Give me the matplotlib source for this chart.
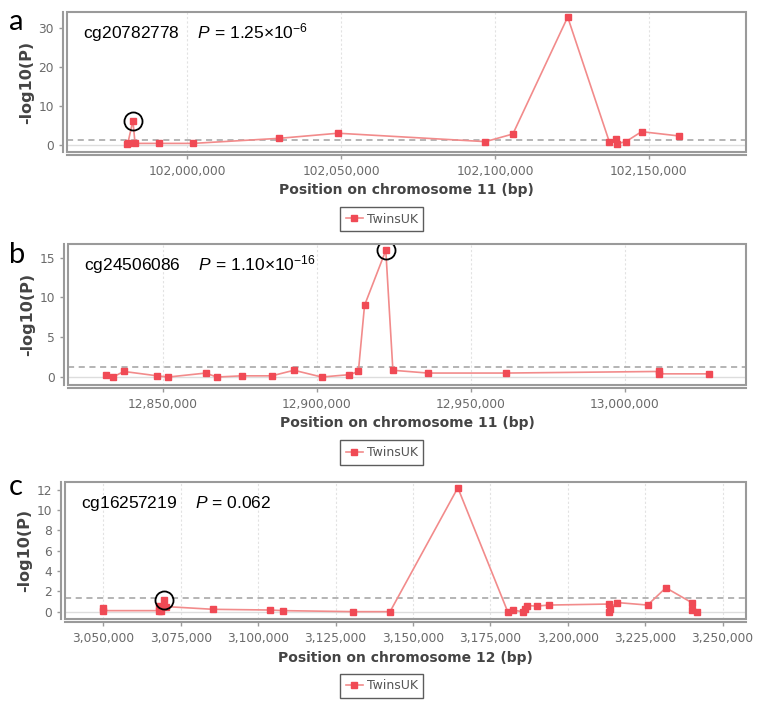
import matplotlib
matplotlib.use("Agg")
import matplotlib.pyplot as plt
from matplotlib.patches import Rectangle
from matplotlib.ticker import FuncFormatter, MultipleLocator

plt.rcParams["mathtext.fontset"] = "custom"
plt.rcParams["mathtext.rm"] = "Liberation Sans"
plt.rcParams["mathtext.it"] = "Liberation Sans:italic"

# panel a: chromosome 11, cg20782778
pos_a = [101980400, 101980800, 101982400, 101983100, 101991000, 102002000, 102030000,
         102049000, 102096900, 102105800, 102123600, 102137100, 102139200, 102139500,
         102142500, 102147600, 102159800]
val_a = [0.2, 0.6, 6.2, 0.4, 0.4, 0.4, 1.7, 3.0, 0.85, 2.8, 32.7, 0.85, 1.4, 0.3,
         0.85, 3.4, 2.3]
xticks_a = [102000000, 102050000, 102100000, 102150000]

# panel b: chromosome 11, cg24506086
pos_b = [12831600, 12833800, 12837400, 12848250, 12851800, 12864000, 12867500, 12875600,
         12885400, 12892600, 12901600, 12910600, 12913500, 12915500, 12922400, 12924700,
         12936000, 12961400, 13011000, 13011200, 13027400]
val_b = [0.3, 0.0, 0.7, 0.15, 0.0, 0.5, 0.0, 0.15, 0.15, 0.85, 0.0, 0.3, 0.7, 9.0,
         15.9, 0.85, 0.5, 0.5, 0.7, 0.4, 0.4]
xticks_b = [12850000, 12900000, 12950000, 13000000]

# panel c: chromosome 12, cg16257219
pos_c = [3049800, 3049900, 3067800, 3068000, 3068600, 3069600, 3070150, 3085500,
         3103850, 3108150, 3130750, 3142600, 3164500, 3180600, 3182200, 3185500,
         3186200, 3186750, 3190000, 3194000, 3213300, 3213400, 3213500, 3215800,
         3225800, 3231700, 3240000, 3240200, 3241800]
val_c = [0.4, 0.1, 0.1, 0.6, 0.1, 1.15, 0.5, 0.23, 0.16, 0.1, 0.0, 0.0, 12.2, 0.0,
         0.15, 0.0, 0.3, 0.6, 0.55, 0.65, 0.75, 0.0, 0.3, 0.9, 0.65, 2.35, 0.9,
         0.15, 0.0]
xticks_c = [3050000, 3075000, 3100000, 3125000, 3150000, 3175000, 3200000,
            3225000, 3250000]

threshold = 1.3  # -log10(0.05)

panels = [
    dict(label="a", pos=pos_a, val=val_a, xticks=xticks_a, hit=2,
         probe="cg20782778", p=r"1.25$\times$10$^{-6}$", chrom=11,
         xlim=(101961000, 102181500), ylim=(-1.8, 34), ystep=10,
         rect=[0.0877, 0.7844, 0.8887, 0.1986], leg_y=0.689, lab_y=0.957),
    dict(label="b", pos=pos_b, val=val_b, xticks=xticks_b, hit=14,
         probe="cg24506086", p=r"1.10$\times$10$^{-16}$", chrom=11,
         xlim=(12819250, 13039300), ylim=(-1.0, 16.7), ystep=5,
         rect=[0.089, 0.4539, 0.8874, 0.2], leg_y=0.358, lab_y=0.627),
    dict(label="c", pos=pos_c, val=val_c, xticks=xticks_c, hit=5,
         probe="cg16257219", p="0.062", chrom=12,
         xlim=(3037600, 3257600), ylim=(-0.75, 12.8), ystep=2,
         rect=[0.0851, 0.1216, 0.8914, 0.1952], leg_y=0.0272, lab_y=0.298),
]

line_col = "#f28b8b"
mark_col = "#f04a55"
grey = "#9a9a9a"
tick_col = "#6a6a6a"

fig = plt.figure(figsize=(7.64, 7.05), dpi=100)

for pn in panels:
    ax = fig.add_axes(pn["rect"])
    ax.plot(pn["pos"], pn["val"], color=line_col, lw=1.2, marker="s", ms=5,
            mfc=mark_col, mec=mark_col, label="TwinsUK", zorder=3)
    i = pn["hit"]
    ax.plot([pn["pos"][i]], [pn["val"][i]], marker="o", ms=13, mfc="none",
            mec="black", mew=1.3, zorder=4)
    ax.axhline(threshold, color="#a0a0a0", ls=(0, (4, 3)), lw=1.1, zorder=2)
    ax.axhline(0, color="#dddddd", lw=1.0, zorder=1)
    for xt in pn["xticks"]:
        ax.axvline(xt, color="#e2e2e2", ls=(0, (2, 2)), lw=0.8, zorder=0)

    ax.set_xlim(pn["xlim"])
    ax.set_ylim(pn["ylim"])
    ax.set_xticks(pn["xticks"])
    ax.yaxis.set_major_locator(MultipleLocator(pn["ystep"]))
    ax.xaxis.set_major_formatter(FuncFormatter(lambda v, _: f"{int(v):,}"))

    for s in ["top", "right"]:
        ax.spines[s].set_visible(False)
    ax.spines["bottom"].set_position(("outward", 2.2))
    ax.spines["left"].set_position(("outward", 3))
    ax.spines["bottom"].set_color(grey)
    ax.spines["left"].set_color(grey)
    ax.spines["bottom"].set_linewidth(1.5)
    ax.spines["left"].set_linewidth(1.5)
    ax.add_patch(Rectangle((0, 0), 1, 1, transform=ax.transAxes, fill=False,
                           edgecolor=grey, lw=1.5, clip_on=False, zorder=5))

    ax.tick_params(axis="both", colors=grey, labelcolor=tick_col, labelsize=8.8,
                   length=3, width=1)
    ax.tick_params(axis="x", pad=4)
    ax.set_xlabel(f"Position on chromosome {pn['chrom']} (bp)", fontsize=10,
                  fontweight="bold", color="#444444", labelpad=4)
    ax.set_ylabel("-log10(P)", fontsize=11.5, fontweight="bold", color="#444444",
                  labelpad=3)

    ax.text(0.023, 0.81, f"{pn['probe']}    $\\it{{P}}$ = {pn['p']}",
            transform=ax.transAxes, fontsize=12.5, family="Liberation Sans",
            color="black", va="baseline")

    fig.text(0.012, pn["lab_y"], pn["label"], fontsize=21, family="Lato",
             va="baseline", color="black")

    leg = fig.legend(handles=ax.get_lines()[:1], loc="center",
                     bbox_to_anchor=(0.4996, pn["leg_y"]), fontsize=9,
                     frameon=True, fancybox=False, edgecolor="#333333",
                     handlelength=1.4, borderpad=0.45, handletextpad=0.3,
                     borderaxespad=0)
    leg.get_frame().set_linewidth(1.0)
    for t in leg.get_texts():
        t.set_color("#555555")

fig.savefig("out.png", dpi=100)
